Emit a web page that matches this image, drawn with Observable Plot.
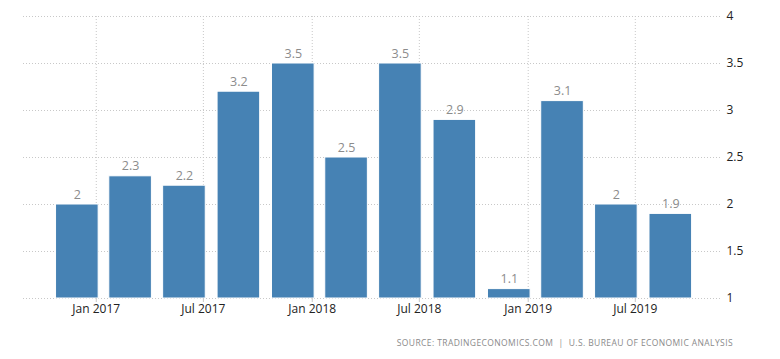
<!DOCTYPE html>
<html>
<head>
<meta charset="utf-8">
<script src="https://cdn.jsdelivr.net/npm/d3@7"></script>
<script src="https://cdn.jsdelivr.net/npm/@observablehq/plot@0.6"></script>
<style>
  html, body { margin: 0; padding: 0; background: #fff; }
  #wrap { position: relative; width: 780px; height: 359px; font-family: "Open Sans", "Noto Sans", sans-serif; }
  #caption { position: absolute; top: 337px; right: 47px; font-size: 8.5px; letter-spacing: 0.4px; color: #8a8a8a; white-space: nowrap; }
</style>
</head>
<body>
<div id="wrap">
  <div id="chart"></div>
  <div id="caption">SOURCE: TRADINGECONOMICS.COM &nbsp;|&nbsp; U.S. BUREAU OF ECONOMIC ANALYSIS</div>
</div>
<script>
// Quarter-end dates (Q4 2016 … Q3 2019) and GDP growth rate values
const quarterEnds = ["2016-12-31","2017-03-31","2017-06-30","2017-09-30","2017-12-31","2018-03-31",
                     "2018-06-30","2018-09-30","2018-12-31","2019-03-31","2019-06-30","2019-09-30"];
const values = [2, 2.3, 2.2, 3.2, 3.5, 2.5, 3.5, 2.9, 1.1, 3.1, 2, 1.9];
const xTicks = ["2017-01-01","2017-07-01","2018-01-01","2018-07-01","2019-01-01","2019-07-01"];
const yTicks = [1, 1.5, 2, 2.5, 3, 3.5, 4];

const data = quarterEnds.map((d, i) => ({date: new Date(d), value: values[i]}));
const xTickDates = xTicks.map(d => new Date(d));

const chart = Plot.plot({
  width: 780,
  height: 325,
  marginLeft: 23,
  marginRight: 60,
  marginTop: 16,
  marginBottom: 27,
  style: {fontFamily: "'Open Sans', 'Noto Sans', sans-serif", fontSize: "12px", background: "#fff"},
  x: {type: "utc", domain: [new Date("2016-08-31"), new Date("2019-11-22")], label: null},
  y: {domain: [1, 4], label: null},
  marks: [
    Plot.gridY(yTicks, {stroke: "#c8c8c8", strokeOpacity: 1, strokeDasharray: "1,2"}),
    Plot.gridX(xTickDates, {stroke: "#c8c8c8", strokeOpacity: 1, strokeDasharray: "1,2"}),
    Plot.rectY(data, {
      x1: d => d3.utcDay.offset(d.date, -67),
      x2: d => d3.utcDay.offset(d.date, 5),
      y1: 1,
      y2: "value",
      fill: "#4682b4",
      stroke: "#ffffff",
      strokeWidth: 1,
      inset: 0
    }),
    Plot.text(data, {
      x: d => d3.utcDay.offset(d.date, -31),
      y: "value",
      text: d => String(d.value),
      lineAnchor: "bottom",
      dy: -6,
      fill: "#8c8c8c",
      fontSize: 12.5
    }),
    Plot.axisX(xTickDates, {tickSize: 4, text: null, stroke: "#c8c8c8", label: null}),
    Plot.axisX(xTickDates, {tickSize: 0, tickPadding: 6, tickFormat: d3.utcFormat("%b %Y"), fill: "#222", fontSize: 12, label: null}),
    Plot.axisY(yTicks, {anchor: "right", tickSize: 0, tickPadding: 6, tickFormat: d => String(d), fill: "#222", fontSize: 12, label: null})
  ]
});
document.getElementById("chart").appendChild(chart);
</script>
</body>
</html>
